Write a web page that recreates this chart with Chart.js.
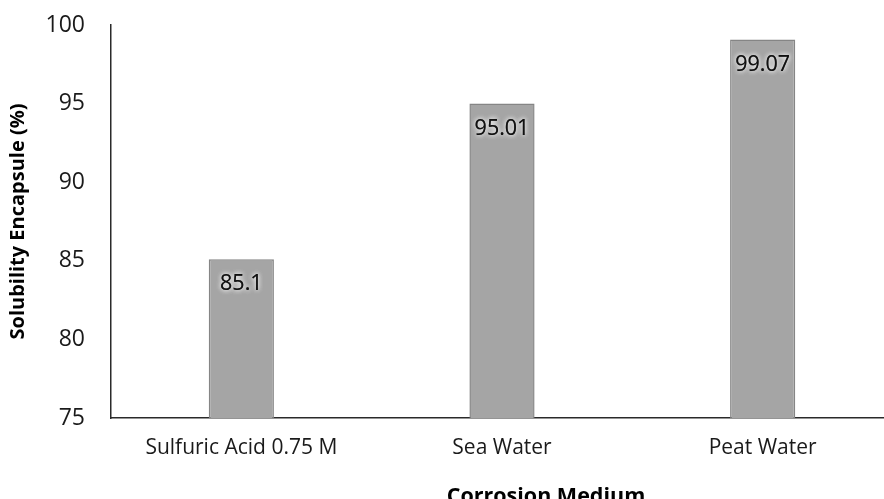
<!DOCTYPE html>
<html>
<head>
<meta charset="utf-8">
<script src="https://cdn.jsdelivr.net/npm/chart.js@4.4.1/dist/chart.umd.min.js"></script>
<style>
  html, body { margin: 0; padding: 0; background: #fff; overflow: hidden; }
  #wrap { position: relative; width: 894px; height: 512px; }
</style>
</head>
<body>
<div id="wrap"><canvas id="c"></canvas></div>
<script>
const categories = ['Sulfuric Acid 0.75 M', 'Sea Water', 'Peat Water'];
const solubility = [85.1, 95.01, 99.07];
const dataLabels = ['85.1', '95.01', '99.07'];
const yMin = 75, yMax = 100, yStep = 5;
const yTitle = 'Solubility Encapsule (%)';
const xTitle = 'Corrosion Medium';

const barLabelPlugin = {
  id: 'barLabels',
  afterDatasetsDraw(chart) {
    const ctx = chart.ctx;
    const meta = chart.getDatasetMeta(0);
    ctx.save();
    ctx.font = '21.5px "Open Sans", sans-serif';
    ctx.textAlign = 'center';
    ctx.textBaseline = 'middle';
    meta.data.forEach((bar, i) => {
      const x = bar.x, y = bar.y + 25;
      ctx.shadowColor = 'rgba(255,255,255,0.95)';
      ctx.shadowBlur = 5;
      ctx.fillStyle = '#111';
      ctx.fillText(dataLabels[i], x, y);
      ctx.fillText(dataLabels[i], x, y);
    });
    ctx.restore();
  }
};

const xTitlePlugin = {
  id: 'xTitle',
  afterDraw(chart) {
    const ctx = chart.ctx;
    ctx.save();
    ctx.font = 'bold 21.5px "Open Sans", sans-serif';
    ctx.textAlign = 'center';
    ctx.textBaseline = 'alphabetic';
    ctx.fillStyle = '#000';
    ctx.fillText(xTitle, 546, 503);
    ctx.restore();
  }
};

new Chart(document.getElementById('c'), {
  type: 'bar',
  data: {
    labels: categories,
    datasets: [{
      data: solubility,
      backgroundColor: '#a5a5a5',
      borderColor: '#858585',
      borderWidth: 1.5,
      barPercentage: 0.25,
      categoryPercentage: 1.0
    }]
  },
  options: {
    responsive: true,
    maintainAspectRatio: false,
    animation: false,
    layout: { padding: { left: 0, right: 1, top: 25, bottom: 0 } },
    plugins: { legend: { display: false }, tooltip: { enabled: false } },
    scales: {
      x: {
        grid: { display: false, drawTicks: false },
        border: { display: true, color: '#2a2a2a', width: 1.5 },
        ticks: { color: '#1a1a1a', padding: 17, font: { family: '"Open Sans", sans-serif', size: 21 }, maxRotation: 0 },
        afterFit(s) { s.height = 94; s.paddingLeft = 0; s.paddingRight = 0; }
      },
      y: {
        min: yMin, max: yMax,
        grid: { display: false, drawTicks: false },
        border: { display: true, color: '#2a2a2a', width: 1.5 },
        ticks: { stepSize: yStep, color: '#1a1a1a', padding: 26, font: { family: '"Open Sans", sans-serif', size: 23 } },
        title: { display: true, text: yTitle, color: '#000', padding: { top: 6, bottom: 0 }, font: { family: '"Open Sans", sans-serif', size: 20, weight: 'bold' } },
        afterFit(s) { s.width = 111; s.paddingTop = 0; s.paddingBottom = 0; }
      }
    }
  },
  plugins: [barLabelPlugin, xTitlePlugin]
});
</script>
</body>
</html>
